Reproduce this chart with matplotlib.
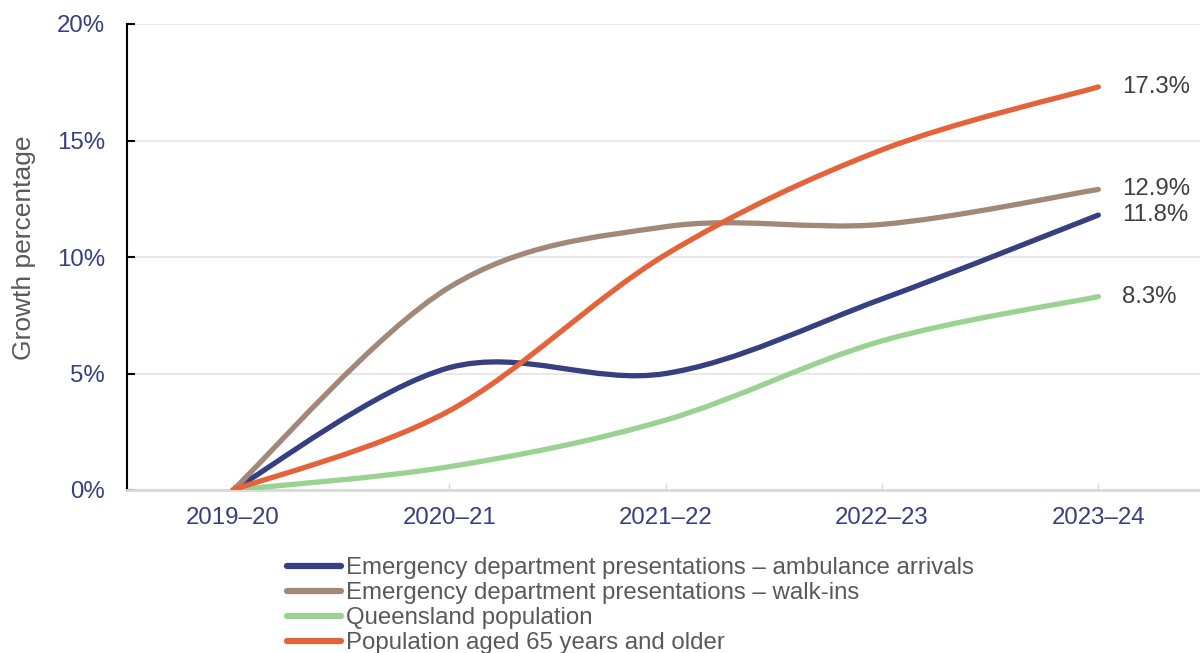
import matplotlib
matplotlib.use("Agg")
import matplotlib.pyplot as plt
from matplotlib.path import Path
from matplotlib.patches import PathPatch
from matplotlib.lines import Line2D

plt.rcParams['font.family'] = ['Liberation Sans', 'DejaVu Sans']

# financial years and growth since 2019-20 (%)
years = ['2019–20', '2020–21', '2021–22', '2022–23', '2023–24']
ambulance = [0, 5.25, 5.0, 8.2, 11.8]
walk_ins = [0, 8.7, 11.3, 11.4, 12.9]
qld_pop = [0, 1.0, 3.0, 6.4, 8.3]
pop_65 = [0, 3.4, 10.1, 14.6, 17.3]

series_names = [
    'Emergency department presentations – ambulance arrivals',
    'Emergency department presentations – walk-ins',
    'Queensland population',
    'Population aged 65 years and older',
]
series_values = [ambulance, walk_ins, qld_pop, pop_65]
series_colors = ['#363F7F', '#A28877', '#9AD292', '#E4633A']

navy = '#363F7F'
grey_text = '#595959'
fs = 17.3


def smooth_path(xs, ys):
    # cubic bezier through every point, tangents from the neighbouring points
    pts = list(zip(xs, ys))
    n = len(pts)
    verts = [pts[0]]
    codes = [Path.MOVETO]
    for i in range(n - 1):
        p0 = pts[i - 1] if i > 0 else pts[i]
        p1 = pts[i]
        p2 = pts[i + 1]
        p3 = pts[i + 2] if i + 2 < n else pts[i + 1]
        c1 = (p1[0] + (p2[0] - p0[0]) / 6, p1[1] + (p2[1] - p0[1]) / 6)
        c2 = (p2[0] - (p3[0] - p1[0]) / 6, p2[1] - (p3[1] - p1[1]) / 6)
        verts += [c1, c2, p2]
        codes += [Path.CURVE4, Path.CURVE4, Path.CURVE4]
    return Path(verts, codes)


fig = plt.figure(figsize=(12, 6.53), dpi=100)
ax = fig.add_axes([127 / 1200, 1 - 490 / 653, 1 - 127 / 1200, (490 - 24) / 653])

x = list(range(len(years)))
# draw in order so orange sits on top
for vals, col in zip(series_values, series_colors):
    patch = PathPatch(smooth_path(x, vals), fill=False, edgecolor=col,
                      linewidth=3.8, capstyle='round', joinstyle='round', zorder=3)
    ax.add_patch(patch)

# end-of-line value labels
for vals in series_values:
    ax.annotate(f'{vals[-1]:.1f}%', xy=(x[-1], vals[-1]), xytext=(17, 0),
                textcoords='offset points', va='center', ha='left',
                fontsize=fs, color='#404040')

ax.set_xlim(-0.49, 4.47)
ax.set_ylim(0, 20)
ax.set_xticks(x)
ax.set_xticklabels(years)
ax.set_yticks([0, 5, 10, 15, 20])
ax.set_yticklabels(['0%', '5%', '10%', '15%', '20%'])

ax.tick_params(axis='x', direction='in', length=5, width=1, color='#D9D9D9',
               labelcolor=navy, labelsize=fs, pad=12)
ax.tick_params(axis='y', direction='in', length=6, width=1.5, color='black',
               labelcolor=navy, labelsize=fs, pad=16)

ax.grid(axis='y', color='#E8E8E8', linewidth=1.5, zorder=0)
ax.set_axisbelow(True)

for side in ['top', 'right']:
    ax.spines[side].set_visible(False)
ax.spines['left'].set_color('black')
ax.spines['left'].set_linewidth(1.5)
ax.spines['bottom'].set_color('#D9D9D9')
ax.spines['bottom'].set_linewidth(2)

ax.set_ylabel('Growth percentage', fontsize=19, color=grey_text)
ax.yaxis.set_label_coords(-91 / 1073, 0.52)

handles = [Line2D([0], [0], color=c, linewidth=4.5, solid_capstyle='round')
           for c in series_colors]
leg = fig.legend(handles, series_names, loc='upper left',
                 bbox_to_anchor=(287 / 1200, 1 - 557 / 653),
                 frameon=False, fontsize=fs, labelspacing=0.13,
                 handlelength=2.25, handletextpad=0.2, borderpad=0,
                 borderaxespad=0)
for t in leg.get_texts():
    t.set_color(grey_text)

fig.savefig('out.png', dpi=100)
